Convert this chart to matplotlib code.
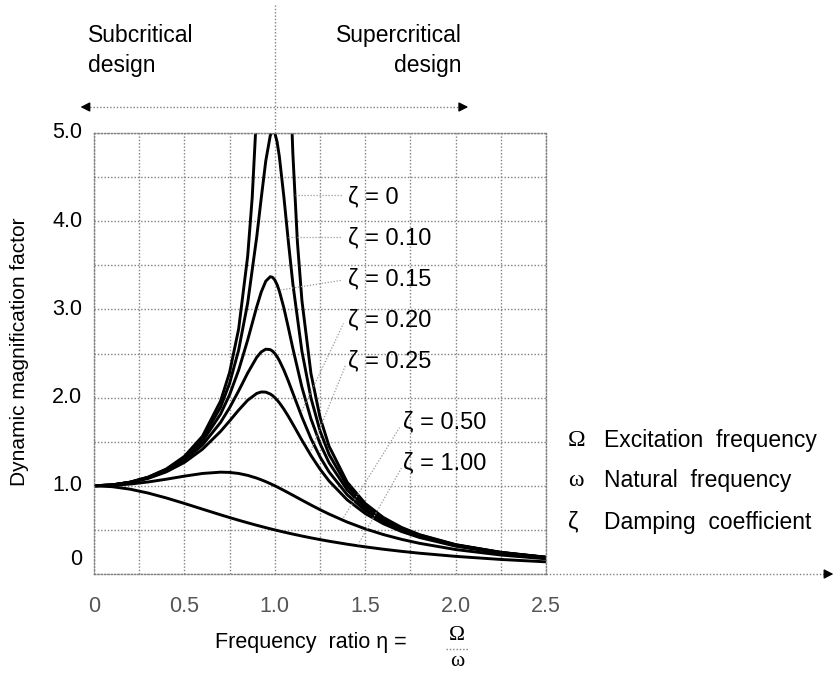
import matplotlib
matplotlib.use('Agg')
import matplotlib.pyplot as plt
import numpy as np

plt.rcParams['font.family'] = ['Liberation Sans', 'DejaVu Sans']

# frequency ratio eta = Omega / omega
eta = [0, 0.1, 0.2, 0.3, 0.4, 0.5, 0.6, 0.7, 0.75, 0.8, 0.85, 0.9, 0.925, 0.95,
       0.975, 0.9875, 1.0, 1.0125, 1.025, 1.05, 1.075, 1.1, 1.15, 1.2, 1.25,
       1.3, 1.4, 1.5, 1.6, 1.7, 1.8, 2.0, 2.25, 2.5]

mag_010 = [1, 1.0099, 1.0408, 1.0965, 1.1851, 1.3216, 1.5357, 1.8908, 2.1622,
           2.5384, 3.0728, 3.8208, 4.2614, 4.6826, 4.9713, 5.0237, 5.0, 4.9006,
           4.7358, 4.2794, 3.7677, 3.2880, 2.5245, 1.9952, 1.6246, 1.3562, 1.0,
           0.7779, 0.6279, 0.5207, 0.4408, 0.3304, 0.2447, 0.1896]
mag_015 = [1, 1.0096, 1.0396, 1.0936, 1.1785, 1.3074, 1.5041, 1.8131, 2.0327,
           2.3112, 2.6534, 3.0289, 3.1968, 3.3199, 3.3711, 3.3637, 3.3333, 3.2809,
           3.2088, 3.0188, 2.7926, 2.5566, 2.1175, 1.7590, 1.4792, 1.2617, 0.9543,
           0.7527, 0.6127, 0.5108, 0.4340, 0.3269, 0.2428, 0.1886]
mag_020 = [1, 1.0093, 1.0381, 1.0895, 1.1695, 1.2883, 1.4630, 1.7188, 1.8851,
           2.0761, 2.2786, 2.4566, 2.5178, 2.5490, 2.5438, 2.5267, 2.5, 2.4644,
           2.4206, 2.3131, 2.1868, 2.0511, 1.7800, 1.5357, 1.3287, 1.1574, 0.8998,
           0.7212, 0.5931, 0.4979, 0.4250, 0.3221, 0.2403, 0.1871]
mag_025 = [1, 1.0088, 1.0361, 1.0843, 1.1581, 1.2649, 1.4148, 1.6167, 1.7355,
           1.8582, 1.9702, 2.0472, 2.0639, 2.0623, 2.0409, 2.0228, 2.0, 1.9729,
           1.9418, 1.8695, 1.7871, 1.6986, 1.5168, 1.3440, 1.1893, 1.0549, 0.8417,
           0.6860, 0.5704, 0.4825, 0.4142, 0.3162, 0.2372, 0.1853]
mag_050 = [1, 1.0050, 1.0198, 1.0436, 1.0748, 1.1094, 1.1399, 1.1546, 1.1517,
           1.1399, 1.1184, 1.0871, 1.0681, 1.0471, 1.0243, 1.0123, 1.0, 0.9874,
           0.9744, 0.9479, 0.9206, 0.8930, 0.8373, 0.7824, 0.7295, 0.6795, 0.5891,
           0.5121, 0.4475, 0.3934, 0.3480, 0.2774, 0.2153, 0.1720]
mag_100 = [1, 0.9901, 0.9615, 0.9174, 0.8621, 0.8, 0.7353, 0.6711, 0.64, 0.6098,
           0.5806, 0.5525, 0.5389, 0.5256, 0.5127, 0.5063, 0.5, 0.4938, 0.4877,
           0.4756, 0.4639, 0.4525, 0.4306, 0.4098, 0.3902, 0.3717, 0.3378, 0.3077,
           0.2809, 0.2571, 0.2358, 0.2, 0.1649, 0.1379]

# undamped curve, two branches around resonance
eta_0 = [0, 0.1, 0.2, 0.3, 0.4, 0.5, 0.6, 0.7, 0.75, 0.8, 0.85, 0.875, 0.9,
         np.nan, 1.09, 1.1, 1.125, 1.15, 1.2, 1.25, 1.3, 1.4, 1.5, 1.6, 1.7,
         1.8, 2.0, 2.25, 2.5]
mag_0 = [1, 1.0101, 1.0417, 1.0989, 1.1905, 1.3333, 1.5625, 1.9608, 2.2857,
         2.7778, 3.6036, 4.2667, 5.2632, np.nan, 5.3163, 4.7619, 3.7647, 3.1008,
         2.2727, 1.7778, 1.4493, 1.0417, 0.8, 0.6410, 0.5291, 0.4464, 0.3333,
         0.2462, 0.1905]

zeta_labels = ['ζ = 0', 'ζ = 0.10', 'ζ = 0.15', 'ζ = 0.20', 'ζ = 0.25',
               'ζ = 0.50', 'ζ = 1.00']
symbols = ['Ω', 'ω', 'ζ']
meanings = ['Excitation  frequency', 'Natural  frequency', 'Damping  coefficient']

W, H = 837, 674
fig = plt.figure(figsize=(W / 100, H / 100), dpi=100)
ax = fig.add_axes([94 / W, 1 - 574 / H, 452 / W, 441 / H])

gcol = '#808080'
dot = (0, (1, 1.4))

for m in [mag_0, mag_010, mag_015, mag_020, mag_025, mag_050, mag_100]:
    e = eta_0 if m is mag_0 else eta
    ax.plot(e, m, color='black', lw=2.1, solid_capstyle='butt')

ax.set_xlim(0, 2.5)
ax.set_ylim(0, 5)
ax.set_xticks(np.arange(0, 2.51, 0.25))
ax.set_xticklabels(['0', '', '0.5', '', '1.0', '', '1.5', '', '2.0', '', '2.5'],
                   fontsize=15.5, color='#555555')
ax.set_yticks(np.arange(0, 5.01, 0.5))
ax.set_yticklabels([])
ax.tick_params(length=0, pad=16)
ax.grid(True, color=gcol, lw=1.0, linestyle=dot)
for s in ax.spines.values():
    s.set_linestyle(dot)
    s.set_color(gcol)
    s.set_linewidth(1.0)

# y tick labels ("0" sits a little above its line)
for v in range(6):
    lab = '0' if v == 0 else f'{v}.0'
    ax.text(-0.065, v + (0.16 if v == 0 else 0), lab, ha='right', va='center',
            fontsize=15.5)

# extended x axis with arrow
ax.plot([2.5, 4.04], [0, 0], color=gcol, lw=1.0, linestyle=dot, clip_on=False)
ax.annotate('', xy=(4.105, 0), xytext=(4.03, 0), annotation_clip=False,
            arrowprops=dict(arrowstyle='-|>,head_length=0.55,head_width=0.28',
                            color='black', lw=1))

# resonance line and design-range arrow
ax.plot([1.0, 1.0], [5.0, 6.45], color=gcol, lw=1.0, linestyle=dot, clip_on=False)
ya = (574 - 107) / 88.2
ax.plot([-0.06, 2.05], [ya, ya], color=gcol, lw=1.0, linestyle=dot, clip_on=False)
ax.annotate('', xy=(-0.09, ya), xytext=(-0.03, ya), annotation_clip=False,
            arrowprops=dict(arrowstyle='-|>,head_length=0.55,head_width=0.28',
                            color='black', lw=1))
ax.annotate('', xy=(2.085, ya), xytext=(2.02, ya), annotation_clip=False,
            arrowprops=dict(arrowstyle='-|>,head_length=0.55,head_width=0.28',
                            color='black', lw=1))

# damping labels with leaders
lab_pos = [(1.405, 4.274), (1.405, 3.810), (1.405, 3.345), (1.405, 2.880),
           (1.405, 2.415), (1.709, 1.723), (1.709, 1.259)]
lead = [((1.11, 4.30), (1.37, 4.30)), ((1.075, 3.82), (1.37, 3.82)),
        ((1.03, 3.22), (1.37, 3.33)), ((1.15, 1.85), (1.38, 2.84)),
        ((1.20, 1.40), (1.39, 2.36)), ((1.38, 0.64), (1.69, 1.66)),
        ((1.46, 0.33), (1.70, 1.20))]
for (x, y), t, (p0, p1) in zip(lab_pos, zeta_labels, lead):
    ax.text(x, y, t, ha='left', va='center', fontsize=17)
    ax.plot([p0[0], p1[0]], [p0[1], p1[1]], color='#999999', lw=0.9,
            linestyle=dot, clip_on=False)

# header texts
fig.text(88 / W, 1 - 24 / H, 'Subcritical\ndesign', ha='left', va='top',
         fontsize=16.5, linespacing=1.4)
fig.text(462 / W, 1 - 24 / H, 'Supercritical\ndesign', ha='right', va='top',
         fontsize=16.5, linespacing=1.4, multialignment='right')

# axis labels
fig.text(20 / W, 1 - 352 / H, 'Dynamic magnification factor', rotation=90,
         ha='center', va='center', fontsize=15)
fig.text(215 / W, 1 - 648 / H, 'Frequency  ratio η =', ha='left',
         va='baseline', fontsize=15.5)
fig.text(457 / W, 1 - 640 / H, 'Ω', ha='center', va='baseline', fontsize=15.5,
         family=['Liberation Serif', 'DejaVu Serif'])
fig.text(457 / W, 1 - 666 / H, 'ω', ha='center', va='baseline', fontsize=15.5,
         family=['Liberation Serif', 'DejaVu Serif'])
fig.add_artist(plt.Line2D([446 / W, 469 / W], [1 - 649 / H, 1 - 649 / H],
                          color=gcol, lw=1.0, linestyle=dot))

# symbol legend
for i, (s, t) in enumerate(zip(symbols, meanings)):
    yy = 1 - (440 + 41 * i) / H
    fam = ['Liberation Serif', 'DejaVu Serif'] if i < 2 else ['Liberation Sans', 'DejaVu Sans']
    fig.text(568 / W, yy, s, ha='left', va='center', fontsize=17, family=fam)
    fig.text(604 / W, yy, t, ha='left', va='center', fontsize=16.5)

fig.savefig('out.png', dpi=100)
